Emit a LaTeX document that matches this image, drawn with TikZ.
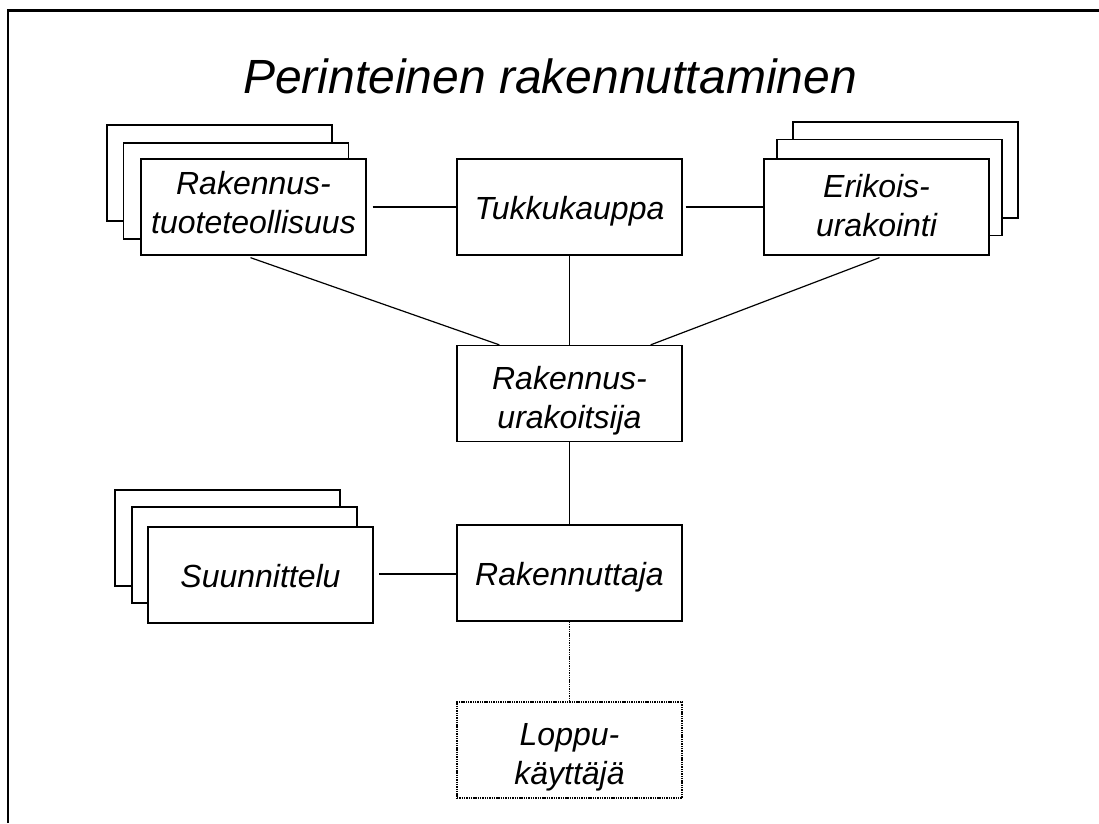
\documentclass[tikz,border=0pt]{standalone}
\usepackage{fontspec}
\setmainfont{Liberation Sans}
\usetikzlibrary{calc}
\tikzset{
  box/.style={draw=black, line width=1.3pt, fill=white, minimum width=225pt, minimum height=96pt,
              inner sep=0pt, font=\fontsize{32}{39}\selectfont\itshape},
  oneline/.style={text height=25pt, text depth=0pt},
  dotbox/.style={box, line width=1.4pt, dash pattern=on 1.4pt off 0.9pt},
  conn/.style={draw=black, line width=1.2pt},
  dotconn/.style={draw=black, line width=1.4pt, dash pattern=on 1.4pt off 0.9pt},
  frame/.style={draw=black, line width=2.3pt},
}
\newcommand{\twol}[2]{\begin{tabular}[t]{@{}c@{}}#1\\#2\end{tabular}}
\begin{document}
\begin{tikzpicture}[x=1pt,y=-1pt]
\useasboundingbox (0,0) rectangle (1099,823);
% frame (cut off at right and bottom)
\draw[frame] (7.7,823) -- (7.7,10.5) -- (1099,10.5);
% title
\node[anchor=base, font=\fontsize{48}{58}\selectfont\itshape] (title) at (550,93) {Perinteinen rakennuttaminen};
% stack left top
\node[box] (rttB) at (219.5,173) {};
\node[box] (rttM) at (236,191) {};
\node[box, text height=22pt, text depth=47pt] (rttF) at (253.5,207) {\twol{Rakennus-}{tuoteteollisuus}};
% stack right top
\node[box] (erikB) at (905.5,170) {};
\node[box] (erikM) at (889.5,187.5) {};
\node[box, text height=22pt, text depth=41pt] (erikF) at (876.5,207) {\twol{Erikois-}{urakointi}};
% stack left bottom
\node[box] (suunB) at (227.5,538) {};
\node[box] (suunM) at (244.5,555) {};
\node[box, oneline] (suunF) at (260.5,575) {Suunnittelu};
% main column
\node[box, oneline] (tukku) at (569.5,207) {Tukkukauppa};
\node[box, text height=22pt, text depth=31pt] (urak) at (569.5,393.5) {\twol{Rakennus-}{urakoitsija}};
\node[box, oneline] (rak) at (569.5,573) {Rakennuttaja};
\node[dotbox, text height=22pt, text depth=32pt] (loppu) at (569.5,750) {\twol{Loppu-}{käyttäjä}};
% connectors
\draw[conn] ($(rttF.east)+(6,0)$) -- (tukku.west);
\draw[conn] ($(tukku.east)+(3,0)$) -- (erikF.west);
\draw[conn] (tukku.south) -- (urak.north);
\draw[conn] ($(rttF.south)+(-3,2)$) -- ($(urak.north west)+(43,0)$);
\draw[conn] ($(erikF.south)+(3,2)$) -- ($(urak.north east)+(-32,0)$);
\draw[conn] (urak.south) -- (rak.north);
\draw[conn, shorten >=5pt] ($(rak.west)+(0,1)$) -- ($(rak.west -| suunF.east)+(0,1)$);
\draw[dotconn] (rak.south) -- (loppu.north);
\end{tikzpicture}
\end{document}
